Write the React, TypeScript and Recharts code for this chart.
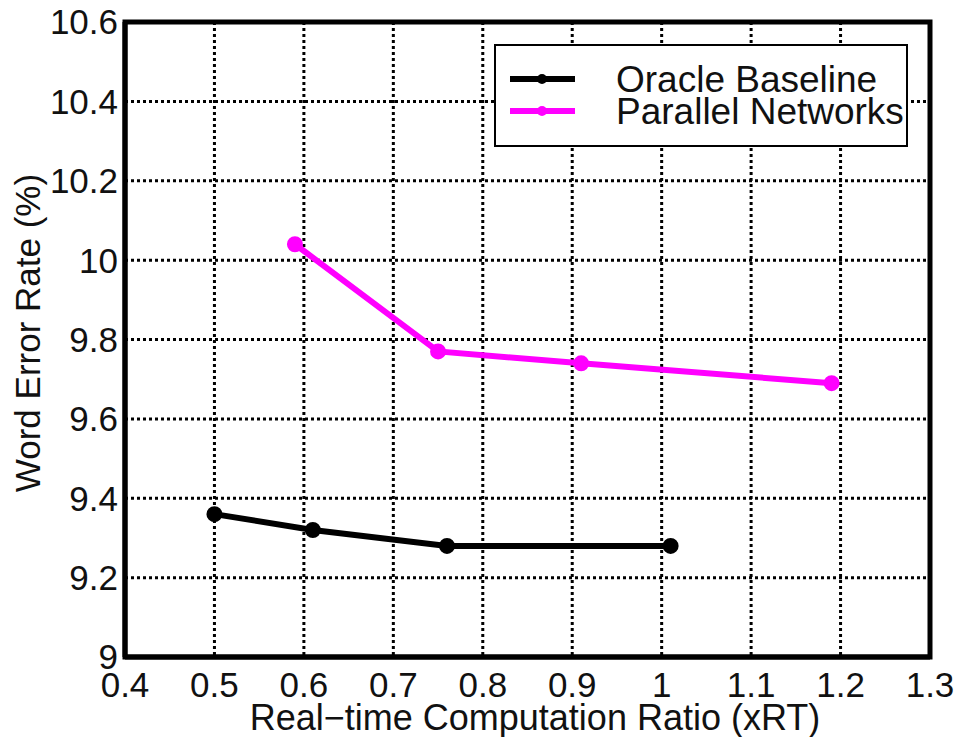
import React from "react";
import {
  LineChart,
  Line,
  XAxis,
  YAxis,
  CartesianGrid,
  Legend,
  ReferenceArea,
} from "recharts";

const xTicks = [0.4, 0.5, 0.6, 0.7, 0.8, 0.9, 1.0, 1.1, 1.2, 1.3];
const yTicks = [9, 9.2, 9.4, 9.6, 9.8, 10, 10.2, 10.4, 10.6];

const oracleXrt = [0.5, 0.61, 0.76, 1.01];
const oracleWer = [9.36, 9.32, 9.28, 9.28];

const parallelXrt = [0.59, 0.75, 0.91, 1.19];
const parallelWer = [10.04, 9.77, 9.74, 9.69];

const oracleData = oracleXrt.map((x, i) => ({ xrt: x, wer: oracleWer[i] }));
const parallelData = parallelXrt.map((x, i) => ({ xrt: x, wer: parallelWer[i] }));

const FONT = "'Liberation Sans', Arial, sans-serif";
const fmt = (v: number) => String(Number(v.toFixed(1)));

function LegendBox() {
  return (
    <svg width={415} height={104} style={{ display: "block" }}>
      <rect x={1} y={1} width={412} height={101} fill="#fff" stroke="#000" strokeWidth={2} />
      <line x1={16} y1={35} x2={81} y2={35} stroke="#000" strokeWidth={6} />
      <circle cx={48} cy={35} r={5} fill="#000" />
      <text x={122} y={48} fontFamily={FONT} fontSize={37} fill="#111">
        Oracle Baseline
      </text>
      <line x1={16} y1={67} x2={81} y2={67} stroke="#ff00ff" strokeWidth={6} />
      <circle cx={48} cy={67} r={5} fill="#ff00ff" />
      <text x={122} y={80} fontFamily={FONT} fontSize={37} fill="#111">
        Parallel Networks
      </text>
    </svg>
  );
}

export default function App() {
  const tickStyle = { fontFamily: FONT, fontSize: 35, fill: "#111" };
  return (
    <div style={{ position: "absolute", left: 0, top: 0, background: "#fff" }}>
      <LineChart
        width={956}
        height={737}
        margin={{ top: 22, right: 26, left: 0, bottom: 0 }}
      >
        <CartesianGrid
          xAxisId="b"
          yAxisId="l"
          stroke="#000"
          strokeWidth={3}
          strokeDasharray="3 3"
          horizontalValues={yTicks}
          verticalValues={xTicks}
        />
        <ReferenceArea
          xAxisId="b"
          yAxisId="l"
          x1={0.4}
          x2={1.3}
          y1={9}
          y2={10.6}
          fill="none"
          fillOpacity={0}
          stroke="#000"
          strokeWidth={5}
          strokeOpacity={1}
          ifOverflow="visible"
        />
        <XAxis
          xAxisId="b"
          type="number"
          dataKey="xrt"
          domain={[0.4, 1.3]}
          ticks={xTicks}
          tickFormatter={fmt}
          allowDataOverflow
          height={80}
          tickLine={false}
          tickSize={6}
          tickMargin={9}
          axisLine={{ stroke: "#000", strokeWidth: 5 }}
          tick={tickStyle}
          interval={0}
          label={() => (
            <text
              x={535}
              y={730}
              textAnchor="middle"
              fontFamily={FONT}
              fontSize={36}
              fill="#111"
            >
              Real−time Computation Ratio (xRT)
            </text>
          )}
        />
        <YAxis
          yAxisId="l"
          type="number"
          domain={[9, 10.6]}
          ticks={yTicks}
          tickFormatter={fmt}
          allowDataOverflow
          width={125}
          tickLine={false}
          tickSize={6}
          tickMargin={1}
          axisLine={{ stroke: "#000", strokeWidth: 5 }}
          tick={tickStyle}
          interval={0}
          label={() => (
            <text
              x={40}
              y={333}
              transform="rotate(-90 40 333)"
              textAnchor="middle"
              fontFamily={FONT}
              fontSize={35}
              fill="#111"
            >
              Word Error Rate (%)
            </text>
          )}
        />
        <Legend
          layout="vertical"
          align="center"
          verticalAlign="middle"
          content={() => <LegendBox />}
          wrapperStyle={{ left: 494, top: 44, width: 415, height: 104 }}
        />
        <Line
          xAxisId="b"
          yAxisId="l"
          data={oracleData}
          dataKey="wer"
          name="Oracle Baseline"
          stroke="#000"
          strokeWidth={6}
          dot={{ r: 5, fill: "#000", stroke: "#000" }}
          isAnimationActive={false}
        />
        <Line
          xAxisId="b"
          yAxisId="l"
          data={parallelData}
          dataKey="wer"
          name="Parallel Networks"
          stroke="#ff00ff"
          strokeWidth={6}
          dot={{ r: 5, fill: "#ff00ff", stroke: "#ff00ff" }}
          isAnimationActive={false}
        />
      </LineChart>
    </div>
  );
}
